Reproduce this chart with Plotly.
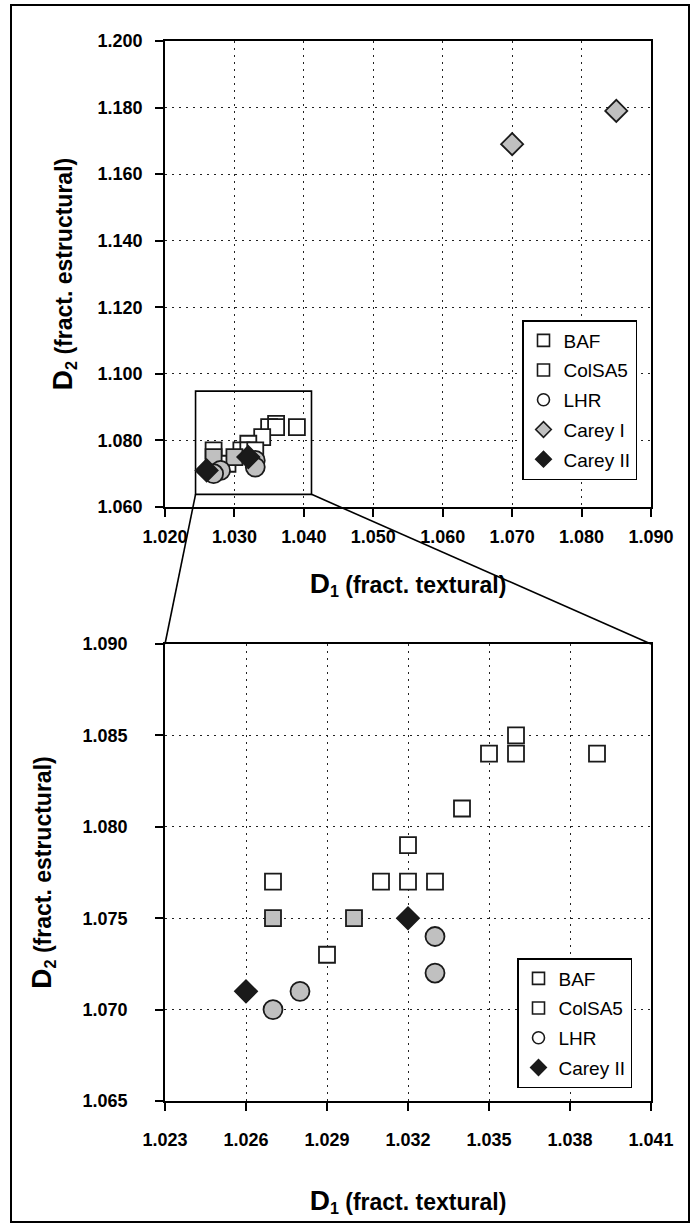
import plotly.graph_objects as go
from plotly.subplots import make_subplots

# data
baf_x = [1.036, 1.035, 1.036, 1.039, 1.034, 1.032, 1.027, 1.031, 1.032, 1.033, 1.029]
baf_y = [1.085, 1.084, 1.084, 1.084, 1.081, 1.079, 1.077, 1.077, 1.077, 1.077, 1.073]
colsa_x = [1.027, 1.030]
colsa_y = [1.075, 1.075]
lhr_x = [1.033, 1.033, 1.028, 1.027]
lhr_y = [1.074, 1.072, 1.071, 1.070]
carey1_x = [1.070, 1.085]
carey1_y = [1.169, 1.179]
carey2_x = [1.026, 1.032]
carey2_y = [1.071, 1.075]

top_xticks = [1.020, 1.030, 1.040, 1.050, 1.060, 1.070, 1.080, 1.090]
top_yticks = [1.060, 1.080, 1.100, 1.120, 1.140, 1.160, 1.180, 1.200]
bot_xticks = [1.023, 1.026, 1.029, 1.032, 1.035, 1.038, 1.041]
bot_yticks = [1.065, 1.070, 1.075, 1.080, 1.085, 1.090]

# zoom window drawn on the upper chart
zoom_x = [1.0244, 1.0411]
zoom_y = [1.0638, 1.0948]

FONT = "Liberation Sans, Arial, sans-serif"
GRAY = "#c0c0c0"
EDGE = "#1a1a1a"

series = [
    dict(name="BAF", x=baf_x, y=baf_y, symbol="square", size=16, color="white", leg="white", top=True, bot=True),
    dict(name="ColSA5", x=colsa_x, y=colsa_y, symbol="square", size=16, color=GRAY, leg="white", top=True, bot=True),
    dict(name="LHR", x=lhr_x, y=lhr_y, symbol="circle", size=19, color=GRAY, leg="white", top=True, bot=True),
    dict(name="Carey I", x=carey1_x, y=carey1_y, symbol="diamond", size=17, color=GRAY, leg=GRAY, top=True, bot=False),
    dict(name="Carey II", x=carey2_x, y=carey2_y, symbol="diamond", size=17, color=EDGE, leg=EDGE, top=True, bot=True),
]

top_dom = [(1101 - 507) / 1060, 1.0]
bot_dom = [0.0, (1101 - 644) / 1060]

fig = make_subplots(rows=2, cols=1)
fig.update_layout(yaxis=dict(domain=top_dom), yaxis2=dict(domain=bot_dom))

for s in series:
    mk = dict(symbol=s["symbol"], size=s["size"], color=s["color"], line=dict(color=EDGE, width=1.8))
    if s["top"]:
        fig.add_trace(go.Scatter(x=s["x"], y=s["y"], mode="markers", marker=mk,
                                 showlegend=False, cliponaxis=False), row=1, col=1)
    if s["bot"]:
        fig.add_trace(go.Scatter(x=s["x"], y=s["y"], mode="markers", marker=mk,
                                 showlegend=False, cliponaxis=False), row=2, col=1)

# legend-only entries (legend symbols are drawn hollow for some series)
for legname, key in [("legend", "top"), ("legend2", "bot")]:
    for s in series:
        if not s[key]:
            continue
        fig.add_trace(go.Scatter(
            x=[None], y=[None], mode="markers", name=s["name"], legend=legname,
            legendgroup=legname + s["name"],
            marker=dict(symbol=s["symbol"], size=12, color=s["leg"], line=dict(color=EDGE, width=1.6)),
        ))

axis_common = dict(
    showline=True, linecolor="black", linewidth=1.8, mirror=True,
    ticks="outside", ticklen=8, tickwidth=1.5, tickcolor="black",
    showgrid=True, gridcolor="#222", gridwidth=1.4, griddash="2px,5px",
    zeroline=False, tickformat=".3f",
    tickfont=dict(family=FONT, size=18, color="black", weight="bold"),
)

title_font = dict(family=FONT, size=23, color="black", weight="bold")

def title(sub, rest):
    return "<b><span style='font-size:28px'>D</span><sub>%s</sub> %s</b>" % (sub, rest)

fig.update_xaxes(axis_common)
fig.update_yaxes(axis_common)

fig.update_xaxes(range=[1.020, 1.090], tickvals=top_xticks, row=1, col=1,
                 ticklabelstandoff=4,
                 title=dict(text=title("1", "(fract. textural)"), standoff=31, font=title_font))
fig.update_yaxes(range=[1.060, 1.200], tickvals=top_yticks, row=1, col=1,
                 ticklabelstandoff=9,
                 title=dict(text=title("2", "(fract. estructural)"), standoff=18, font=title_font))
fig.update_xaxes(range=[1.023, 1.041], tickvals=bot_xticks, row=2, col=1,
                 ticklabelstandoff=13,
                 title=dict(text=title("1", "(fract. textural)"), standoff=45, font=title_font))
fig.update_yaxes(range=[1.065, 1.090], tickvals=bot_yticks, row=2, col=1,
                 ticklabelstandoff=24,
                 title=dict(text=title("2", "(fract. estructural)"), standoff=24, font=title_font))

# zoom window and connector lines
def top_to_paper(xv, yv):
    px = (xv - 1.020) / (1.090 - 1.020)
    py = top_dom[0] + (yv - 1.060) / (1.200 - 1.060) * (top_dom[1] - top_dom[0])
    return px, py

fig.add_shape(type="rect", xref="x", yref="y", x0=zoom_x[0], x1=zoom_x[1], y0=zoom_y[0], y1=zoom_y[1],
              line=dict(color="black", width=1.6), layer="between")
blx, bly = top_to_paper(zoom_x[0], zoom_y[0])
brx, bry = top_to_paper(zoom_x[1], zoom_y[0])
fig.add_shape(type="line", xref="paper", yref="paper", x0=blx, y0=bly, x1=0, y1=bot_dom[1],
              line=dict(color="black", width=1.6))
fig.add_shape(type="line", xref="paper", yref="paper", x0=brx, y0=bry, x1=1, y1=bot_dom[1],
              line=dict(color="black", width=1.6))

# outer frame
fig.add_shape(type="rect", xref="paper", yref="paper",
              x0=(11 - 165) / 486, x1=(689 - 165) / 486,
              y0=(1101 - 1222) / 1060, y1=(1101 - 5) / 1060,
              line=dict(color="black", width=2))

legend_common = dict(
    bgcolor="white", bordercolor="black", borderwidth=1.5,
    font=dict(family=FONT, size=19, color="black"),
    traceorder="grouped", tracegroupgap=2, xanchor="right", yanchor="top",
)
fig.update_layout(
    legend=dict(legend_common, x=(637 - 165) / 486, y=(1101 - 320) / 1060),
    legend2=dict(legend_common, x=(632 - 165) / 486, y=(1101 - 958) / 1060),
)

fig.update_layout(
    width=694, height=1226,
    margin=dict(l=165, r=43, t=41, b=125),
    paper_bgcolor="white", plot_bgcolor="white",
    font=dict(family=FONT, color="black"),
)

# drop the browser's default body margin so the figure sits at the page origin
fig.write_html("out.html", config={"displayModeBar": False},
               post_script="document.body.style.margin='0';")
